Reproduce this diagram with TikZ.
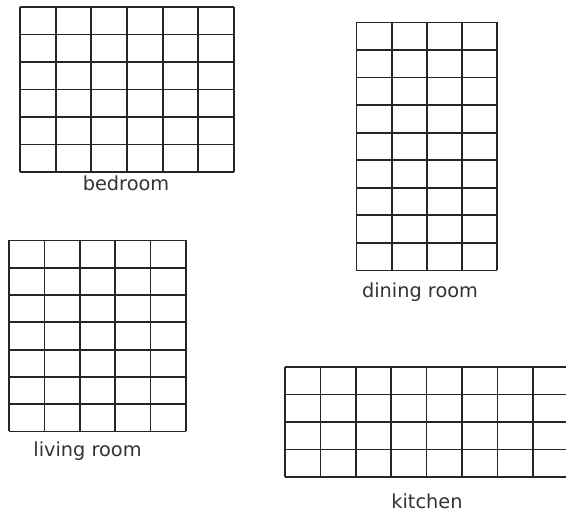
\documentclass[tikz,border=0pt]{standalone}
\usepackage{fontspec}
\setmainfont{DejaVu Sans}
\usepackage{tikz}

\tikzset{
  wall/.style={draw=black!85, line width=1pt},
  roomlabel/.style={anchor=base, inner sep=0pt, font=\fontsize{11}{13}\selectfont, text=black!80}
}

\begin{document}
\begin{tikzpicture}[x=0.02cm, y=-0.02cm]
\useasboundingbox (0,0) rectangle (566,517);
\clip (0,0) rectangle (566,517);
\foreach \i in {0,...,6} \draw[wall] ({20+35.67*\i},7) -- ({20+35.67*\i},172);
\foreach \j in {0,...,6} \draw[wall] (20,{7+27.5*\j}) -- (234,{7+27.5*\j});
\node[roomlabel] (bedroom) at (126,191) {bedroom};
\foreach \i in {0,...,4} \draw[wall] ({356.5+35.2*\i},22.5) -- ({356.5+35.2*\i},270.5);
\foreach \j in {0,...,9} \draw[wall] (356.5,{22.5+27.55*\j}) -- (497.3,{22.5+27.55*\j});
\node[roomlabel] (dining) at (420,298) {dining room};
\foreach \i in {0,...,5} \draw[wall] ({9+35.4*\i},240.5) -- ({9+35.4*\i},431.5);
\foreach \j in {0,...,7} \draw[wall] (9,{240.5+27.29*\j}) -- (186,{240.5+27.29*\j});
\node[roomlabel] (living) at (87.5,457) {living room};
\foreach \i in {0,...,8} \draw[wall] ({285+35.4*\i},367) -- ({285+35.4*\i},477);
\foreach \j in {0,...,4} \draw[wall] (285,{367+27.5*\j}) -- (568.2,{367+27.5*\j});
\node[roomlabel] (kitchen) at (427,509) {kitchen};
\end{tikzpicture}
\end{document}
